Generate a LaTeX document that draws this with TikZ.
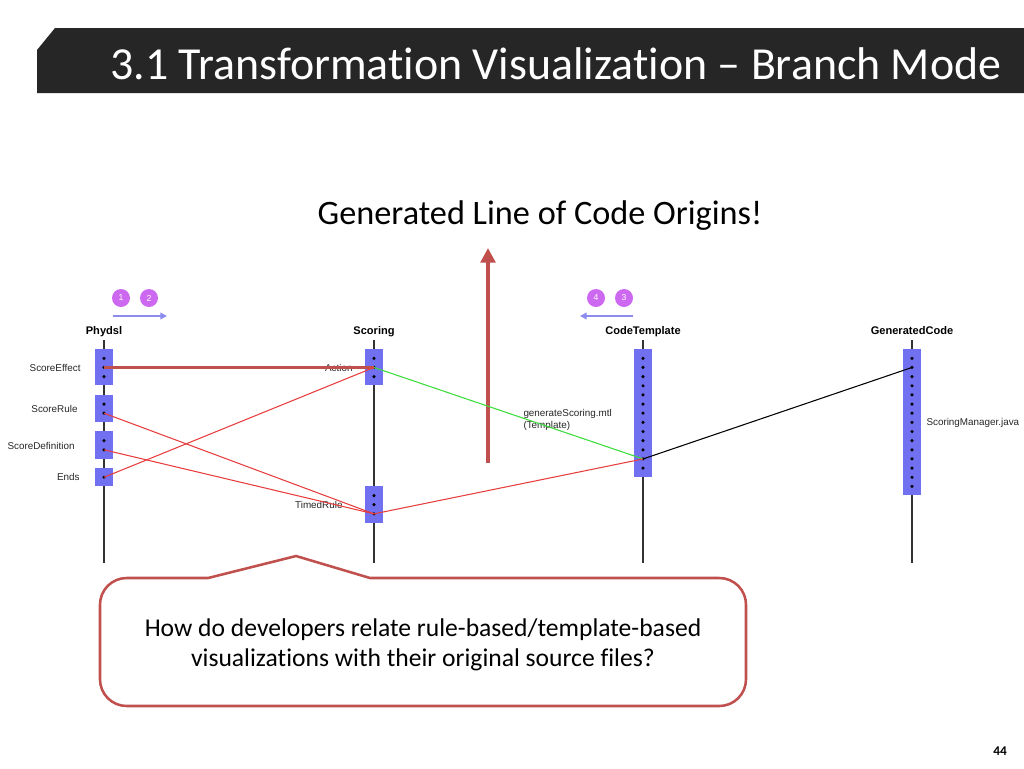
\documentclass[tikz,border=0pt]{standalone}
\usepackage{fontspec}
\setmainfont{Carlito}[Ligatures=NoCommon]
\newfontfamily\arialfont{Liberation Sans}
\usetikzlibrary{arrows.meta}

\definecolor{titlegray}{RGB}{38,38,38}
\definecolor{slidered}{RGB}{192,80,77}
\definecolor{linkred}{RGB}{232,62,62}
\definecolor{linkgreen}{RGB}{60,220,60}
\definecolor{actblue}{RGB}{112,112,240}
\definecolor{stepviolet}{RGB}{205,105,240}
\definecolor{steparrowblue}{RGB}{140,140,240}

\tikzset{every picture/.style={line width=0.75pt}}
\tikzset{
  head/.style={font=\arialfont\bfseries\fontsize{8.3}{10}\selectfont, inner sep=0.75pt, anchor=base},
  lbl/.style={font=\arialfont\fontsize{7.4}{9}\selectfont, text=black!85, inner sep=0pt},
  lifeline/.style={draw=black!80, line width=0.8pt},
  dotpt/.style={circle, fill=black, inner sep=0pt, minimum size=2.6pt},
  mainlink/.style={draw=slidered, line width=2pt},
  redlink/.style={draw=linkred, line width=0.8pt},
  greenlink/.style={draw=linkgreen, line width=0.8pt},
  blacklink/.style={draw=black, line width=0.8pt},
  stepdot/.style={circle, fill=stepviolet, text=white, inner sep=0pt, minimum size=13.5pt, font=\arialfont\fontsize{6.5}{7}\selectfont},
  steparrow/.style={draw=steparrowblue, line width=1.5pt, -{Triangle[length=5pt,width=5pt]}},
  bigarrow/.style={draw=slidered, line width=2.6pt, -{Triangle[length=11pt,width=11pt]}},
  callout/.style={draw=slidered, line width=1.9pt, fill=white}
}

\begin{document}
\begin{tikzpicture}[x=0.75pt,y=0.75pt,yscale=-1,xscale=1]
\useasboundingbox (0,0) rectangle (1024,768);

% Title bar
\fill[titlegray] (55,28) -- (1024,28) -- (1024,93) -- (37,93) -- (37,50) -- cycle;
\node[anchor=west, text=white, inner sep=0pt, font=\fontsize{34.4}{40}\selectfont] (title) at (110,64) {3.1 Transformation Visualization – Branch Mode};

% Headline and arrow
\node[font=\fontsize{25.7}{30}\selectfont] (origins) at (540,216) {Generated Line of Code Origins!};
\coordinate (bigfoot) at (488,463);
\coordinate (bigtip) at (488,248);
\draw[bigarrow] (bigfoot) -- (bigtip);

% Step markers
\node[stepdot] (step1) at (121,298) {1};
\node[stepdot] (step2) at (149,298) {2};
\node[stepdot] (step4) at (596,298) {4};
\node[stepdot] (step3) at (624,298) {3};
\coordinate (fwdstart) at (113,316);
\coordinate (fwdend) at (167,316);
\coordinate (backstart) at (633,316);
\coordinate (backend) at (580,316);
\draw[steparrow] (fwdstart) -- (fwdend);
\draw[steparrow] (backstart) -- (backend);

% Lifelines
\node[head] (phydsl) at (104,334) {Phydsl};
\node[head] (scoring) at (374,334) {Scoring};
\node[head] (codetemplate) at (643,334) {CodeTemplate};
\node[head] (generatedcode) at (912,334) {GeneratedCode};
\foreach \x in {104,374,643,912}
  \draw[lifeline] (\x,340) -- (\x,563);

% Activation boxes
\foreach \x/\a/\b in {104/0/2, 104/5/6, 104/9/10, 104/13/13, 374/0/2, 374/15/17, 643/0/12, 912/0/14}
  \fill[actblue] ({\x-9},{358.3+9.15*\a-9.3}) rectangle ({\x+9},{358.3+9.15*\b+8.7});

% Dots
\foreach \r in {0,1,2,5,6,9,10,13}
  \node[dotpt] (phy\r) at (104,{358.3+9.15*\r}) {};
\foreach \r in {0,1,2,15,16,17}
  \node[dotpt] (scr\r) at (374,{358.3+9.15*\r}) {};
\foreach \r in {0,...,12}
  \node[dotpt] (ctp\r) at (643,{358.3+9.15*\r}) {};
\foreach \r in {0,...,14}
  \node[dotpt] (gen\r) at (912,{358.3+9.15*\r}) {};

% Element labels
\node[lbl, anchor=east] (scoreeffect) at (81,368) {ScoreEffect};
\node[lbl, anchor=east] (scorerule) at (78,409) {ScoreRule};
\node[lbl, anchor=east] (scoredefinition) at (75,446) {ScoreDefinition};
\node[lbl, anchor=east] (ends) at (80,477) {Ends};
\node[lbl, anchor=east] (action) at (353,368) {Action};
\node[lbl, anchor=east] (timedrule) at (343,505) {TimedRule};
\node[lbl, anchor=west] (scoringmanager) at (926,423) {ScoringManager.java};
\node[lbl, anchor=west, align=left] (template) at (523,420) {generateScoring.mtl\\(Template)};

% Trace links
\draw[mainlink] (phy1.center) -- (scr1.center);
\draw[redlink] (phy6.center) -- (scr17.center);
\draw[redlink] (phy10.center) -- (scr17.center);
\draw[redlink] (phy13.center) -- (scr1.center);
\draw[greenlink] (scr1.center) -- (ctp11.center);
\draw[redlink] (scr17.center) -- (ctp11.center);
\draw[blacklink] (ctp11.center) -- (gen1.center);

% Callout
\draw[callout] (296,556) -- (370,578) [rounded corners=20] -- (746,578) -- (746,706) -- (100,706) -- (100,578) [sharp corners] -- (208,578) -- cycle;
\node[align=center, font=\fontsize{19.2}{22.5}\selectfont] (question) at (423,645) {How do developers relate rule-based/template-based\\visualizations with their original source files?};

% Page number
\node[font=\bfseries\fontsize{10}{12}\selectfont] (pagenum) at (1000,751) {44};
\end{tikzpicture}
\end{document}
